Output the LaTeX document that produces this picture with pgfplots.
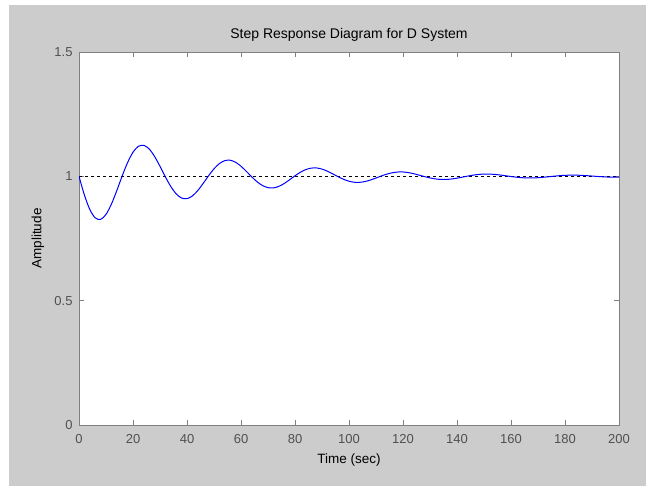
\documentclass[border=0pt]{standalone}
\usepackage{pgfplots}
\pgfplotsset{compat=1.18}
\usepackage{fontspec}
\setmainfont{Liberation Sans}
\definecolor{figgray}{HTML}{CCCCCC}
\definecolor{axgray}{HTML}{808080}
\definecolor{lblgray}{HTML}{505050}
\begin{document}
\begin{tikzpicture}[x=1bp,y=1bp]
\fill[white] (0,0) rectangle (651,486);
\fill[figgray] (9,0) rectangle (646,481);
\begin{axis}[
  at={(79bp,61bp)}, anchor=south west,
  scale only axis, width=540bp, height=373bp,
  xmin=0, xmax=200, ymin=0, ymax=1.5,
  xtick={0,20,...,200}, ytick={0,0.5,1,1.5},
  yticklabels={0,0.5,1,1.5},
  tick align=inside, major tick length=5bp,
  axis line style={axgray, line width=0.9bp},
  every tick/.style={axgray, line width=0.8bp},
  axis background/.style={fill=white},
  /pgf/number format/assume math mode=true,
  tick label style={font=\fontsize{13bp}{15bp}\selectfont, text=lblgray},
  xticklabel style={anchor=base, yshift=-19bp},
  yticklabel style={anchor=east, xshift=-3bp},
  title={Step Response Diagram for D System},
  title style={font=\fontsize{14bp}{16bp}\selectfont, anchor=base, at={(0.5,1)}, yshift=8bp},
  xlabel={Time (sec)},
  xlabel style={font=\fontsize{13.5bp}{16bp}\selectfont, anchor=base, at={(0.5,0)}, yshift=-39bp},
  ylabel={Amplitude},
  ylabel style={font=\fontsize{13.5bp}{16bp}\selectfont, at={(0,0.5)}, anchor=center, yshift=41bp},
  clip=true,
]
\addplot[black, dashed, dash pattern=on 3bp off 3bp, line width=0.8bp] coordinates {(0,1) (200,1)};
\addplot[color={rgb,255:red,0;green,0;blue,255}, line width=1bp, smooth] coordinates {
(0,1.0000) (2,0.9248) (4,0.8668) (6,0.8331) (8,0.8268) (10,0.8468) (12,0.8881) (14,0.9427)
(16,1.0015) (18,1.0555) (20,1.0970) (22,1.1207) (24,1.1247) (26,1.1099) (28,1.0798) (30,1.0402)
(32,0.9978) (34,0.9590) (36,0.9295) (38,0.9127) (40,0.9102) (42,0.9212) (44,0.9431) (46,0.9718)
(48,1.0024) (50,1.0302) (52,1.0513) (54,1.0631) (56,1.0647) (58,1.0565) (60,1.0405) (62,1.0198)
(64,0.9977) (66,0.9778) (68,0.9627) (70,0.9544) (72,0.9534) (74,0.9595) (76,0.9711) (78,0.9862)
(80,1.0021) (82,1.0164) (84,1.0271) (86,1.0330) (88,1.0336) (90,1.0290) (92,1.0206) (94,1.0097)
(96,0.9982) (98,0.9880) (100,0.9803) (102,0.9761) (104,0.9759) (106,0.9792) (108,0.9854) (110,0.9932)
(112,1.0015) (114,1.0089) (116,1.0143) (118,1.0173) (120,1.0174) (122,1.0149) (124,1.0104) (126,1.0047)
(128,0.9988) (130,0.9935) (132,0.9896) (134,0.9875) (136,0.9875) (138,0.9893) (140,0.9926) (142,0.9967)
(144,1.0010) (146,1.0048) (148,1.0076) (150,1.0090) (152,1.0090) (154,1.0076) (156,1.0053) (158,1.0023)
(160,0.9992) (162,0.9965) (164,0.9945) (166,0.9935) (168,0.9935) (170,0.9945) (172,0.9963) (174,0.9984)
(176,1.0006) (178,1.0026) (180,1.0040) (182,1.0047) (184,1.0047) (186,1.0039) (188,1.0027) (190,1.0011)
(192,0.9995) (194,0.9981) (196,0.9971) (198,0.9966) (200,0.9967)
};
\end{axis}
\end{tikzpicture}
\end{document}
